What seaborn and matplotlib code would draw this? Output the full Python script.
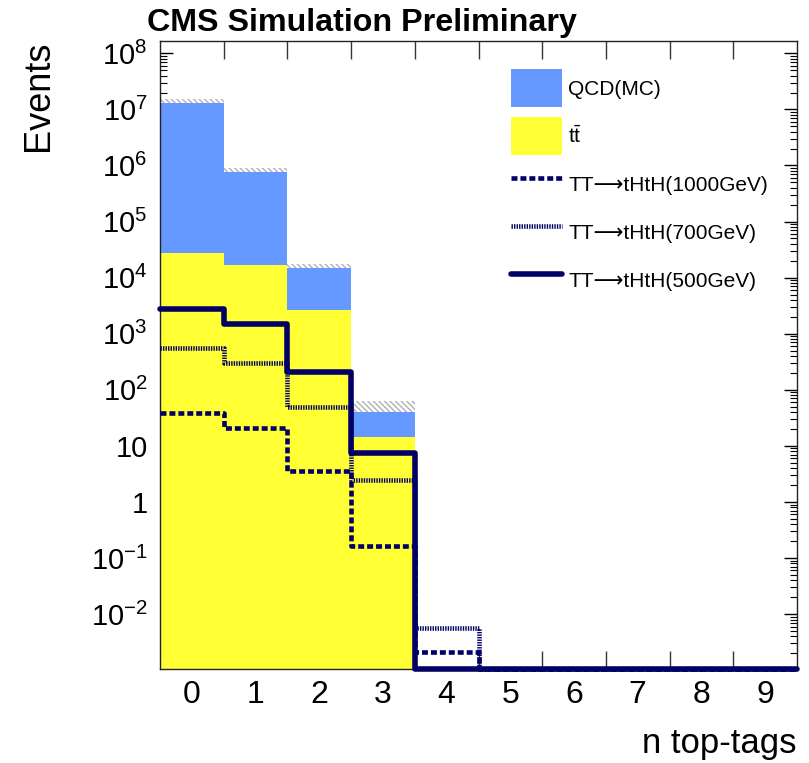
import numpy as np
import pandas as pd
import matplotlib
matplotlib.use("Agg")
import matplotlib.pyplot as plt
import seaborn as sns
from matplotlib.patches import Patch
from matplotlib.lines import Line2D
from matplotlib.ticker import FixedLocator, FixedFormatter, LogLocator, NullFormatter

# ---------------- data ----------------
n_tags = [0, 1, 2, 3, 4, 5, 6, 7, 8, 9]
qcd = [1.287e7, 7.59e5, 1.245e4, 26.7, 0, 0, 0, 0, 0, 0]
ttbar = [2.7e4, 1.7e4, 2.65e3, 14.3, 0, 0, 0, 0, 0, 0]
bkg_unc = [2.6e6, 1.4e5, 2.3e3, 22.0, 0, 0, 0, 0, 0, 0]
sig1000 = [39.0, 20.7, 3.6, 0.167, 0.0021, 0, 0, 0, 0, 0]
sig700 = [552.0, 305.0, 50.0, 2.45, 0.0056, 0, 0, 0, 0, 0]
sig500 = [2735.0, 1480.0, 211.0, 7.6, 0, 0, 0, 0, 0, 0]

labels_bkg = ["QCD(MC)", "tt"]
label_sig1000 = "TT\u27f6tHtH(1000GeV)"
label_sig700 = "TT\u27f6tHtH(700GeV)"
label_sig500 = "TT\u27f6tHtH(500GeV)"
ytick_vals = [1e-2, 1e-1, 1, 10, 1e2, 1e3, 1e4, 1e5, 1e6, 1e7, 1e8]
ytick_labels = ["$10^{-2}$", "$10^{-1}$", "1", "10", "$10^{2}$", "$10^{3}$",
                "$10^{4}$", "$10^{5}$", "$10^{6}$", "$10^{7}$", "$10^{8}$"]

# ---------------- style ----------------
sns.set_theme(style="ticks")
plt.rcParams["font.family"] = ["Liberation Sans", "DejaVu Sans"]
plt.rcParams["mathtext.fontset"] = "custom"
plt.rcParams["mathtext.rm"] = "Liberation Sans"
plt.rcParams["mathtext.it"] = "Liberation Sans:italic"
plt.rcParams["mathtext.bf"] = "Liberation Sans:bold"
plt.rcParams["hatch.linewidth"] = 1.0
for key in ["text.color", "axes.labelcolor", "xtick.color", "ytick.color"]:
    plt.rcParams[key] = "black"

QCD_COL = "#6699ff"
TT_COL = "#ffff33"
SIG_COL = "#000066"
YMIN, YMAX = 1.05e-3, 1.66e8

W, H = 809, 763
fig = plt.figure(figsize=(W / 100, H / 100), dpi=100)
ax = fig.add_axes([160 / W, 1 - 669 / H, 637 / W, 628 / H])

# background stack
df_bkg = pd.DataFrame({
    "n": n_tags * 2,
    "events": qcd + ttbar,
    "process": [labels_bkg[0]] * len(n_tags) + [labels_bkg[1]] * len(n_tags),
})
sns.histplot(data=df_bkg, x="n", weights="events", hue="process",
             hue_order=labels_bkg, multiple="stack", discrete=True, shrink=1,
             palette={labels_bkg[0]: QCD_COL, labels_bkg[1]: TT_COL},
             alpha=1, linewidth=0, legend=False, ax=ax, zorder=2)

# uncertainty band (hatched, behind the stack)
total = np.array(qcd) + np.array(ttbar)
unc = np.array(bkg_unc)
mask = total > 0
ax.bar(np.array(n_tags)[mask], 2 * unc[mask], bottom=(total - unc)[mask], width=1,
       facecolor="none", edgecolor="#b0b0b0", hatch="\\\\\\\\\\\\", linewidth=0, zorder=1)

# signal lines
def draw_sig(vals, ls, lw, z):
    w = np.where(np.array(vals) > 0, vals, YMIN)
    sns.histplot(x=n_tags, weights=w, discrete=True, element="step", fill=False,
                 color=SIG_COL, linewidth=lw, linestyle=ls, ax=ax, clip_on=False,
                 zorder=z)

DASH_1000 = (0, (1.3, 0.65))
DASH_700 = (0, (0.3, 0.25))
draw_sig(sig1000, DASH_1000, 3.3, 4)
draw_sig(sig700, DASH_700, 3.3, 4)
draw_sig(sig500, "-", 4.0, 5)

ax.set_yscale("log")
ax.set_ylim(YMIN, YMAX)
ax.set_xlim(-0.5, 9.5)

# ticks
ax.xaxis.set_major_locator(FixedLocator(n_tags))
ax.xaxis.set_major_formatter(FixedFormatter([str(v) for v in n_tags]))
ax.xaxis.set_minor_locator(FixedLocator(np.arange(0.5, 9.0, 1.0)))
ax.tick_params(axis="x", which="major", length=0, labelsize=23, pad=8)
ax.tick_params(axis="x", which="minor", length=13, width=1, direction="in",
               top=True, bottom=True, color="#333333")
ax.yaxis.set_major_locator(FixedLocator(ytick_vals))
ax.yaxis.set_major_formatter(FixedFormatter(ytick_labels))
ax.yaxis.set_minor_locator(LogLocator(base=10, subs=np.arange(2, 10), numticks=30))
ax.yaxis.set_minor_formatter(NullFormatter())
ax.tick_params(axis="y", which="major", length=9.5, width=1, direction="in",
               left=True, right=True, labelsize=21, pad=9)
ax.tick_params(axis="y", which="minor", length=5, width=0.8, direction="in",
               left=True, right=True)
for sp in ax.spines.values():
    sp.set_linewidth(1.0)
    sp.set_color("#222222")
    sp.set_zorder(3)

ax.set_xlabel("n top-tags", loc="right", fontsize=25)
ax.xaxis.set_label_coords(1.0, -0.092)
ax.set_ylabel("Events", loc="top", fontsize=26)
ax.yaxis.set_label_coords(-0.163, 1.0)

fig.text(147 / W, 1 - 31 / H, "CMS Simulation Preliminary", fontsize=23.2,
         fontweight="bold", ha="left", va="baseline")

# legend
handles = [
    Patch(facecolor=QCD_COL, edgecolor="none"),
    Patch(facecolor=TT_COL, edgecolor="none"),
    Line2D([], [], color=SIG_COL, lw=3.3, linestyle=DASH_1000),
    Line2D([], [], color=SIG_COL, lw=3.3, linestyle=DASH_700),
    Line2D([], [], color=SIG_COL, lw=4.0, linestyle="-"),
]
leg_labels = [labels_bkg[0], r"$\mathrm{t\bar{t}}$", label_sig1000, label_sig700, label_sig500]
ax.legend(handles, leg_labels, loc="upper left", bbox_to_anchor=(0.551, 0.955),
          frameon=False, fontsize=15, handlelength=2.45, handleheight=2.43,
          labelspacing=0.48, handletextpad=0.3, borderpad=0, borderaxespad=0)

fig.savefig("out.png", dpi=100)
